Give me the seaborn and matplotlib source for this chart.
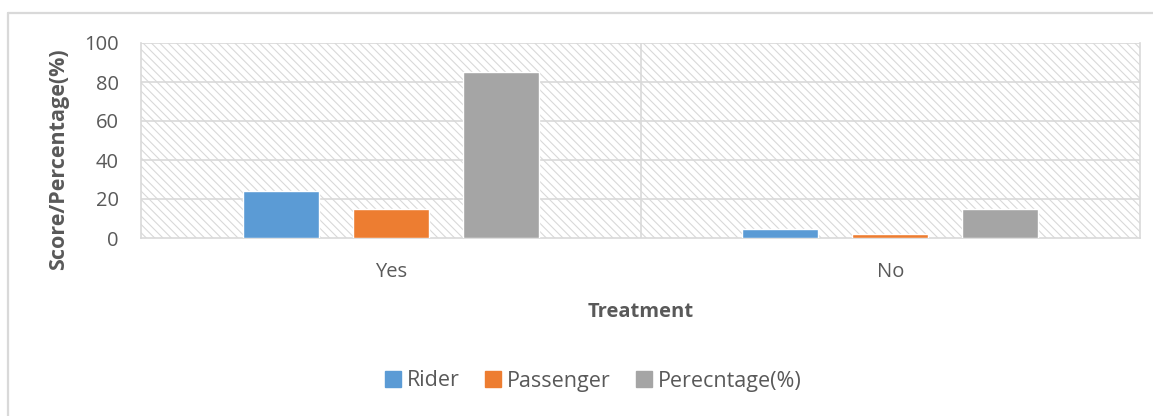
import matplotlib
matplotlib.use("Agg")
import matplotlib.pyplot as plt
import seaborn as sns
import pandas as pd
from matplotlib.patches import Rectangle
from matplotlib.lines import Line2D

categories = ["Yes", "No"]
series = ["Rider", "Passenger", "Perecntage(%)"]
rider = [24, 4.5]
passenger = [15, 2]
percentage = [85, 15]
colors = ["#5B9BD5", "#ED7D31", "#A5A5A5"]

rows = []
for s, vals in zip(series, [rider, passenger, percentage]):
    for c, v in zip(categories, vals):
        rows.append({"Treatment": c, "Series": s, "Value": v})
df = pd.DataFrame(rows)

sns.set_theme(style="white")
plt.rcParams["font.family"] = ["Open Sans", "DejaVu Sans"]
plt.rcParams["hatch.color"] = "#d9d9d9"
plt.rcParams["hatch.linewidth"] = 0.8

W, H = 1153, 416
fig = plt.figure(figsize=(W / 100, H / 100), dpi=100)
ax = fig.add_axes([141 / W, 1 - 238 / H, (1140 - 141) / W, (238 - 43) / H])

# background hatch
ax.add_patch(Rectangle((0, 0), 1, 1, transform=ax.transAxes, facecolor="white",
                       edgecolor="#d9d9d9", hatch="\\\\\\\\", linewidth=0, zorder=0))

sns.barplot(data=df, x="Treatment", y="Value", hue="Series", order=categories,
            hue_order=series, palette=colors, width=0.661, gap=0.31,
            saturation=1, ax=ax, legend=False, zorder=3, errorbar=None)

ax.set_ylim(0, 100)
ax.set_xlim(-0.5, 1.5)
ax.set_yticks([0, 20, 40, 60, 80, 100])
for yv in [20, 40, 60, 80, 100]:
    ax.axhline(yv, color="#d9d9d9", lw=1.2, zorder=1)
ax.axvline(0.5, color="#d9d9d9", lw=1.2, zorder=1)
for sp in ax.spines.values():
    sp.set_color("#d9d9d9")
    sp.set_linewidth(1.2)
ax.spines["top"].set_visible(False)

txtc = "#595959"
ax.tick_params(axis="both", length=0, labelsize=14.5, labelcolor=txtc)
ax.tick_params(axis="x", pad=17)
ax.tick_params(axis="y", pad=16)
ax.set_xlabel("Treatment", fontsize=14.5, fontweight="bold", color=txtc, labelpad=15)
ax.set_ylabel("Score/Percentage(%)", fontsize=15.5, fontweight="bold", color=txtc)
ax.yaxis.set_label_coords(-0.072, (238 - 159) / 195)

handles = [Line2D([], [], marker="s", linestyle="", markersize=11, color=c) for c in colors]
fig.legend(handles, series, loc="center", bbox_to_anchor=(592 / W, 1 - 381 / H), ncol=3,
           frameon=False, fontsize=15.5, labelcolor=txtc, handletextpad=0.15,
           columnspacing=1.05, handlelength=1.0)

# outer chart frame
fig.add_artist(Line2D([8 / W, 1], [1 - 13 / H, 1 - 13 / H], color="#d9d9d9", lw=1.6,
                      transform=fig.transFigure))
fig.add_artist(Line2D([8 / W, 8 / W], [0, 1 - 13 / H], color="#d9d9d9", lw=1.6,
                      transform=fig.transFigure))

fig.savefig("out.png", dpi=100, facecolor="white")
